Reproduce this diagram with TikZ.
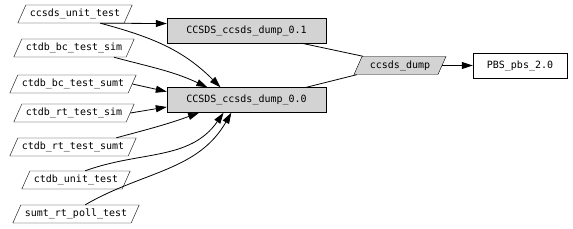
\documentclass[tikz,border=0pt]{standalone}
\usepackage{fontspec}
\setmonofont{DejaVu Sans Mono}
\usepackage{tikz}
\usetikzlibrary{arrows.meta,shapes.geometric}
\definecolor{dgFill}{HTML}{D3D3D3}
\tikzset{
    dgTest/.style={
        trapezium,
        trapezium left angle=66,
        trapezium right angle=114,
        trapezium stretches body,
        draw,
        inner xsep=4pt,
        text height=8pt,
        text depth=2pt,
        inner ysep=4pt,
        font=\ttfamily\fontsize{10}{12}\selectfont
    },
    dgTarget/.style={
        rectangle,
        draw,
        fill=dgFill,
        inner sep=0pt,
        minimum width=159pt,
        minimum height=25pt,
        font=\ttfamily\fontsize{10}{12}\selectfont
    },
    dgPackage/.style={
        rectangle,
        draw,
        inner sep=0pt,
        minimum width=94pt,
        minimum height=25pt,
        font=\ttfamily\fontsize{10}{12}\selectfont
    },
    dgArrow/.style={-{Triangle[length=11pt,width=7pt]},line width=0.8pt},
    dgLine/.style={line width=0.8pt}
}

\begin{document}
\begin{tikzpicture}[x=1pt,y=1pt]
    \useasboundingbox (0,0) rectangle (573,-229);

    % Test nodes
    \node[dgTest] (unittest) at (75,-14) {ccsds\_unit\_test};
    \node[dgTest] (bcsim) at (74,-48) {ctdb\_bc\_test\_sim};
    \node[dgTest] (bcsumt) at (73,-84) {ctdb\_bc\_test\_sumt};
    \node[dgTest] (rtsim) at (74,-113) {ctdb\_rt\_test\_sim};
    \node[dgTest] (rtsumt) at (73,-147) {ctdb\_rt\_test\_sumt};
    \node[dgTest] (ctdbunit) at (76,-180) {ctdb\_unit\_test};
    \node[dgTest] (pollt) at (76,-214) {sumt\_rt\_poll\_test};

    % Targets
    \node[dgTarget] (dumpb) at (246.5,-30.5) {CCSDS\_ccsds\_dump\_0.1};
    \node[dgTarget] (dumpa) at (246.5,-100) {CCSDS\_ccsds\_dump\_0.0};
    \node[dgTest,fill=dgFill,minimum width=92pt] (dump) at (400,-65.5) {ccsds\_dump};
    \node[dgPackage] (pbs) at (520,-65.5) {PBS\_pbs\_2.0};

    % Edges
    \draw[dgArrow] (unittest.-20) -- (dumpb.175);
    \draw[dgArrow] (unittest.-20) to[out=-15,in=135] (dumpa.154);
    \draw[dgArrow] (bcsim.-13) to[out=-15,in=155] (dumpa.162.6);
    \draw[dgArrow] (bcsumt.east) -- (dumpa.174);
    \draw[dgArrow] (rtsim.east) -- (dumpa.185);
    \draw[dgArrow] (rtsumt.12.7) to[out=15,in=200] (dumpa.195.6);
    \draw[dgArrow] (ctdbunit.north east) to[out=20,in=235] (dumpa.209);
    \draw[dgArrow] (pollt.north east) to[out=30,in=240] (dumpa.220);

    \draw[dgLine] (dumpb.-13) -- (dump.166);
    \draw[dgLine] (dumpa.12) -- (dump.192);
    \draw[dgArrow] (dump.east) -- (pbs.west);
\end{tikzpicture}
\end{document}
